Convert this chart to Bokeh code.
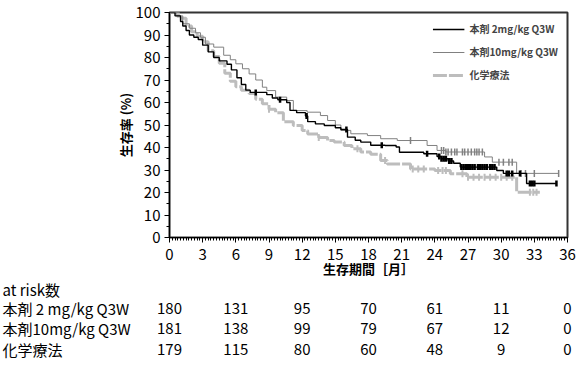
import numpy as np
from bokeh.plotting import figure
from bokeh.layouts import column
from bokeh.models import FixedTicker, Legend, LegendItem, Range1d
from bokeh.core.properties import value
from bokeh.embed import file_html
from bokeh.resources import INLINE

FONT = "Noto Sans CJK JP"

# ---------------- data ----------------
names = ["本剤 2mg/kg Q3W", "本剤10mg/kg Q3W", "化学療法"]
table_header = "at risk数"
table_names = ["本剤 2 mg/kg Q3W", "本剤10mg/kg Q3W", "化学療法"]

t_2mg = [0, 0.5, 1.0, 1.2, 1.5, 1.8, 2.2, 2.6, 3.0, 3.5, 4.0, 4.5, 5.2, 5.6, 6.1, 6.5, 6.9, 7.3,
         8.8, 9.3, 9.8, 10.6, 10.9, 11.5, 12.3, 12.5, 13.2, 14.0, 15.0, 15.5, 16.1, 16.8, 17.3, 18.2,
         19.5, 20.5, 20.8, 23.0, 24.2, 24.6, 25.2, 25.7, 26.3, 29.6, 30.2, 32.3, 35.0]
s_2mg = [100, 98.5, 96, 94, 92, 90, 89, 88, 85.5, 82.5, 80, 78.5, 77, 74.5, 71, 68, 65.5, 64.5,
         63.5, 62, 61.2, 60, 56.5, 55.5, 54, 51.5, 50.5, 49.8, 48.8, 48, 44.6, 43.2, 42.4, 41,
         40.9, 40.2, 37.9, 37.2, 36, 35, 34, 33, 31.3, 29.8, 28.5, 24.0, 24.0]

t_10mg = [0, 0.6, 1.2, 1.8, 2.35, 2.8, 3.25, 4.0, 4.9, 5.5, 6.0, 6.6, 7.2, 7.8, 8.4, 8.8, 9.6,
          10.6, 11.2, 12.45, 13.65, 14.3, 15.0, 15.5, 16.4, 17.9, 19.1, 20.6, 23.3, 24.2, 25.0,
          28.5, 29.2, 31.4, 35.2]
s_10mg = [100, 98.5, 95, 93, 91, 89, 86, 84.6, 81, 79, 77.2, 75, 72.7, 70, 66.8, 65.3, 62.4,
          60.9, 56.4, 55.7, 54.2, 52, 50, 47.6, 46.1, 45.3, 43.9, 43.1, 40.9, 38.7, 38,
          35.8, 33.5, 28.5, 28.5]

t_chemo = [0, 0.8, 1.5, 2.0, 2.5, 3.0, 3.5, 4.0, 4.5, 5.0, 5.5, 6.0, 6.5, 7.2, 7.8, 8.4, 9.0,
           9.6, 10.3, 11.2, 12.0, 12.5, 13.5, 14.3, 14.9, 15.8, 16.5, 17.3, 18.2, 19.1, 19.7,
           21.8, 24.0, 25.4, 26.9, 31.4, 33.5]
s_chemo = [100, 97.5, 94, 91.5, 89.5, 87, 83, 80.5, 77.5, 73, 69.5, 67, 65.5, 64, 61.5, 59.4, 57,
           55.5, 51.5, 49.8, 47.6, 46, 44.5, 43.1, 42.4, 40.9, 39.5, 38, 37, 34.2, 32.7,
           30.5, 29.8, 28.3, 26.8, 20.1, 20.1]

c_2mg = [7.8, 10.0, 12.4, 16.0, 19.2, 23.3, 24.4, 24.6, 24.8, 25.0, 25.3, 25.5, 26.4, 26.6, 26.8,
         27.0, 27.2, 27.4, 27.6, 27.9, 28.1, 28.3, 28.5, 28.7, 29.0, 29.2, 29.4, 30.5, 30.7, 31.0,
         31.7, 32.6, 32.8, 33.0, 35.0]
c_10mg = [21.8, 24.6, 24.8, 25.0, 25.2, 25.5, 25.8, 26.0, 26.5, 26.7, 27.0, 27.3, 27.6, 27.8,
          28.0, 28.3, 29.8, 30.2, 30.7, 31.0, 31.8, 32.2, 33.0, 35.2]
c_chemo = [9.0, 13.5, 17.0, 19.5, 22.0, 22.5, 23.0, 24.3, 24.7, 25.0, 26.5, 27.0, 27.5, 28.0,
           28.5, 29.0, 29.5, 30.0, 30.5, 31.0, 32.6, 32.9, 33.2]

risk_months = [0, 6, 12, 18, 24, 30, 36]
risk_2mg = [180, 131, 95, 70, 61, 11, 0]
risk_10mg = [181, 138, 99, 79, 67, 12, 0]
risk_chemo = [179, 115, 80, 60, 48, 9, 0]

x_ticks = list(range(0, 37, 3))
y_ticks = list(range(0, 101, 10))

# ---------------- main figure ----------------
W = 582
MAIN_H = 280
TABLE_H = 366 - MAIN_H
LEFT, RIGHT = 169, 15

p = figure(width=W, height=MAIN_H, x_range=(0, 36), y_range=(0, 100),
           output_backend="svg", toolbar_location=None,
           min_border_left=LEFT, min_border_right=RIGHT, min_border_top=12, min_border_bottom=MAIN_H - 237)
p.xgrid.visible = False
p.ygrid.visible = False
p.outline_line_color = "#333333"
p.outline_line_width = 2
p.background_fill_color = "white"
p.border_fill_color = "white"


def step_y(ts, ss, cs):
    ts = np.asarray(ts); ss = np.asarray(ss)
    idx = np.searchsorted(ts, np.asarray(cs), side="right") - 1
    return ss[idx]


r_chemo = p.step(t_chemo, s_chemo, mode="after", line_color="#bdbdbd", line_width=3, line_dash="14 2")
p.scatter(c_chemo, step_y(t_chemo, s_chemo, c_chemo), marker="dash", angle=np.pi / 2, size=7,
          line_color="#bdbdbd", line_width=2)
r_10 = p.step(t_10mg, s_10mg, mode="after", line_color="#808080", line_width=1)
p.scatter(c_10mg, step_y(t_10mg, s_10mg, c_10mg), marker="dash", angle=np.pi / 2, size=7,
          line_color="#808080", line_width=1.5)
r_2 = p.step(t_2mg, s_2mg, mode="after", line_color="black", line_width=1.4)
p.scatter(c_2mg, step_y(t_2mg, s_2mg, c_2mg), marker="dash", angle=np.pi / 2, size=6,
          line_color="black", line_width=2.5)

legend = Legend(items=[LegendItem(label=names[0], renderers=[r_2]),
                       LegendItem(label=names[1], renderers=[r_10]),
                       LegendItem(label=names[2], renderers=[r_chemo])],
                location="top_right", margin=0, padding=9, spacing=8,
                label_height=14, glyph_height=14, glyph_width=32, label_standoff=5,
                border_line_alpha=0, background_fill_alpha=0,
                label_text_font=FONT, label_text_font_size="10px", label_text_font_style="bold")
p.add_layout(legend)

p.xaxis.ticker = FixedTicker(ticks=x_ticks, minor_ticks=list(np.arange(0, 36.01, 0.25)))
p.yaxis.ticker = FixedTicker(ticks=y_ticks, minor_ticks=list(range(0, 101, 5)))
for ax in (p.xaxis, p.yaxis):
    ax.axis_line_color = "black"
    ax.axis_line_width = 1.2
    ax.major_tick_in = 0
    ax.major_tick_out = 5
    ax.minor_tick_in = 0
    ax.minor_tick_out = 3
    ax.major_tick_line_color = "black"
    ax.minor_tick_line_color = "black"
    ax.major_label_text_font = FONT
    ax.major_label_text_font_size = "15px"
    ax.major_label_text_color = "black"
    ax.axis_label_text_font = FONT
    ax.axis_label_text_font_size = "13px"
    ax.axis_label_text_font_style = "bold"
    ax.axis_label_text_color = "black"
p.xaxis.axis_label = "生存期間［月］"
p.yaxis.axis_label = "生存率 (%)"
p.xaxis.major_label_standoff = 6
p.xaxis.axis_label_standoff = -4
p.yaxis.major_label_standoff = 4
p.yaxis.axis_label_standoff = -2

# ---------------- at-risk table figure ----------------
px_per_month = (W - LEFT - RIGHT) / 36.0
t = figure(width=W, height=TABLE_H,
           x_range=Range1d(-LEFT / px_per_month, 36 + RIGHT / px_per_month),
           y_range=Range1d(TABLE_H, 0),
           output_backend="svg", toolbar_location=None,
           min_border_left=0, min_border_right=0, min_border_top=0, min_border_bottom=0)
t.axis.visible = False
t.grid.visible = False
t.outline_line_color = None
t.background_fill_color = "white"
t.border_fill_color = "white"
for fig in (p, t):
    if "frame_align" in fig.properties():
        fig.frame_align = False

row_pos = [28, 48, 69]       # vertical pixel position of each table row (layout)
header_pos = 9
xs, ys, txt = [], [], []
for ry, vals in zip(row_pos, [risk_2mg, risk_10mg, risk_chemo]):
    for m, v in zip(risk_months, vals):
        xs.append(m); ys.append(ry); txt.append(str(v))
t.text(x=xs, y=ys, text=txt, text_align="center", text_baseline="middle",
       text_font=value(FONT), text_font_size="15px", text_color="black")

label_x = (2 - LEFT) / px_per_month
t.text(x=[label_x] * 4, y=[header_pos] + row_pos, text=[table_header] + table_names,
       text_align="left", text_baseline="middle",
       text_font=value(FONT), text_font_size="15px", text_color="black")

layout = column(p, t, spacing=0)
open("out.html", "w").write(file_html(layout, INLINE))
